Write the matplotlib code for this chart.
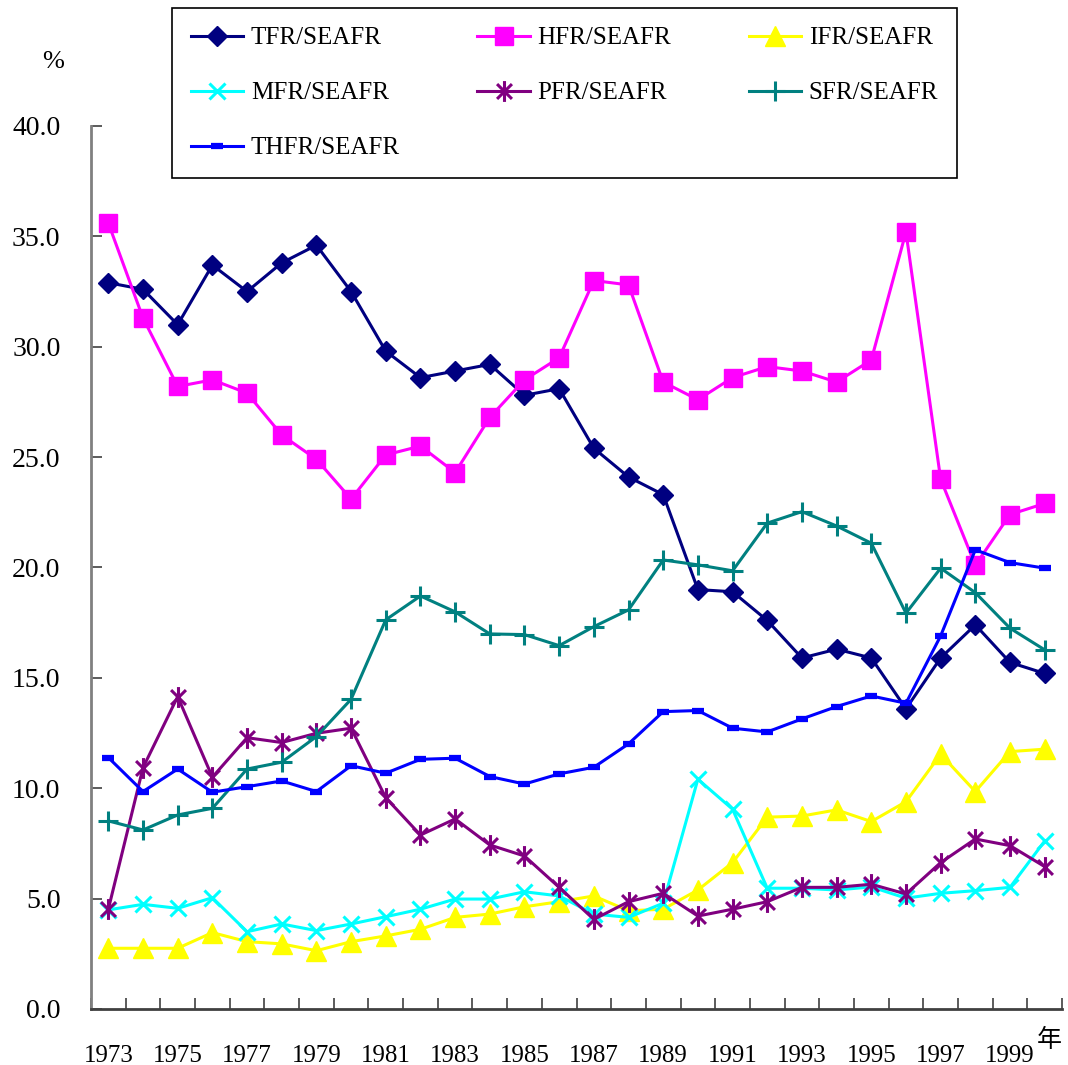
import matplotlib
matplotlib.use("Agg")
import matplotlib.pyplot as plt
from matplotlib.path import Path

plt.rcParams["font.family"] = ["Liberation Serif", "Noto Sans CJK JP"]

years = [1973, 1974, 1975, 1976, 1977, 1978, 1979, 1980, 1981, 1982,
         1983, 1984, 1985, 1986, 1987, 1988, 1989, 1990, 1991, 1992,
         1993, 1994, 1995, 1996, 1997, 1998, 1999, 2000]

tfr = [32.9, 32.6, 31.0, 33.7, 32.5, 33.8, 34.6, 32.5, 29.8, 28.6,
       28.9, 29.2, 27.8, 28.1, 25.4, 24.1, 23.3, 19.0, 18.9, 17.6,
       15.9, 16.3, 15.9, 13.6, 15.9, 17.4, 15.7, 15.2]
hfr = [35.6, 31.3, 28.2, 28.5, 27.9, 26.0, 24.9, 23.1, 25.1, 25.5,
       24.3, 26.8, 28.5, 29.5, 33.0, 32.8, 28.4, 27.6, 28.6, 29.1,
       28.9, 28.4, 29.4, 35.2, 24.0, 20.1, 22.4, 22.9]
ifr = [2.75, 2.75, 2.75, 3.46, 3.05, 2.95, 2.64, 3.05, 3.31, 3.61,
       4.15, 4.3, 4.63, 4.86, 5.12, 4.45, 4.52, 5.39, 6.63, 8.69,
       8.74, 9.02, 8.49, 9.39, 11.54, 9.85, 11.66, 11.77]
mfr = [4.49, 4.74, 4.56, 5.04, 3.5, 3.85, 3.55, 3.85, 4.18, 4.52,
       4.98, 4.98, 5.31, 5.12, 4.3, 4.15, 4.79, 10.41, 9.05, 5.47,
       5.47, 5.39, 5.53, 5.02, 5.24, 5.36, 5.51, 7.61]
pfr = [4.52, 10.93, 14.15, 10.5, 12.29, 12.07, 12.49, 12.72, 9.57, 7.88,
       8.61, 7.43, 6.93, 5.51, 4.06, 4.86, 5.24, 4.21, 4.52, 4.86,
       5.51, 5.51, 5.65, 5.21, 6.63, 7.7, 7.4, 6.45]
sfr = [8.52, 8.11, 8.79, 9.09, 10.87, 11.18, 12.34, 14.03, 17.63, 18.71,
       17.99, 16.99, 16.96, 16.46, 17.32, 18.08, 20.34, 20.12, 19.85, 22.01,
       22.53, 21.88, 21.1, 17.93, 19.97, 18.86, 17.25, 16.27]
thfr = [11.39, 9.85, 10.87, 9.82, 10.07, 10.33, 9.85, 11.02, 10.68, 11.31,
        11.36, 10.53, 10.19, 10.65, 10.95, 12.01, 13.47, 13.52, 12.72, 12.55,
        13.14, 13.7, 14.18, 13.85, 16.9, 20.8, 20.22, 19.97]

# Excel-style star: an x with a vertical bar through it
star = Path([(-1, -1), (1, 1), (-1, 1), (1, -1), (0, -1.4), (0, 1.4)],
            [Path.MOVETO, Path.LINETO, Path.MOVETO, Path.LINETO, Path.MOVETO, Path.LINETO])

series = [
    ("TFR/SEAFR", tfr, "#000080", dict(marker="D", markersize=10.5)),
    ("HFR/SEAFR", hfr, "#FF00FF", dict(marker="s", markersize=13)),
    ("IFR/SEAFR", ifr, "#FFFF00", dict(marker="^", markersize=14)),
    ("MFR/SEAFR", mfr, "#00FFFF", dict(marker="x", markersize=12, markeredgewidth=2.2)),
    ("PFR/SEAFR", pfr, "#800080", dict(marker=star, markersize=15, markeredgewidth=2.2)),
    ("SFR/SEAFR", sfr, "#008080", dict(marker="+", markersize=15, markeredgewidth=2.2)),
    ("THFR/SEAFR", thfr, "#0000FF", dict(marker="_", markersize=8, markeredgewidth=4.5)),
]

fig = plt.figure(figsize=(10.68, 10.65), dpi=100)
ax = fig.add_axes([0.0852, 0.0526, 0.9092, 0.8291])

x = list(range(len(years)))
handles = {}
for label, vals, color, mk in series:
    h, = ax.plot(x, vals, color=color, linewidth=2.2, label=label, **mk)
    handles[label] = h

ax.set_xlim(-0.5, len(years) - 0.5)
ax.set_ylim(0, 40)
yt = [0, 5, 10, 15, 20, 25, 30, 35, 40]
ax.set_yticks(yt)
ax.set_yticklabels([f"{v:.1f}" for v in yt])
ax.set_xticks(x[::2])
ax.set_xticklabels([str(y) for y in years[::2]])
ax.set_xticks([i - 0.5 for i in range(len(years) + 1)], minor=True)
ax.tick_params(axis="x", which="major", length=0, pad=26, labelsize=18)
ax.tick_params(axis="x", which="minor", direction="in", length=8, width=1.2, color="#404040")
ax.tick_params(axis="y", direction="in", length=8, width=1.2, pad=22, labelsize=20, color="#404040")

for s in ["top", "right"]:
    ax.spines[s].set_visible(False)
ax.spines["left"].set_color("#808080")
ax.spines["bottom"].set_color("#404040")
ax.spines["left"].set_linewidth(2)
ax.spines["bottom"].set_linewidth(2)

fig.text(53 / 1068, 1 - 62 / 1065, "%", fontsize=19, ha="center", va="center")
fig.text(1049 / 1068, 1 - 1040 / 1065, "年", fontsize=18, ha="center", va="center",
         family=["Noto Sans CJK JP"])

# legend fills column by column, so order it to read row by row
order = ["TFR/SEAFR", "MFR/SEAFR", "THFR/SEAFR", "HFR/SEAFR", "PFR/SEAFR",
         "IFR/SEAFR", "SFR/SEAFR"]
leg = fig.legend(handles=[handles[k] for k in order], loc="upper left", ncol=3, mode="expand",
                 bbox_to_anchor=(172 / 1068, 1 - 8 / 1065 - 0.01, 785 / 1068, 0.01),
                 fontsize=18, frameon=True, fancybox=False, framealpha=1,
                 edgecolor="black", borderpad=0.75, labelspacing=1.3,
                 handlelength=2.1, handletextpad=0.3, borderaxespad=0)
leg.get_frame().set_linewidth(1.2)

fig.savefig("out.png")
